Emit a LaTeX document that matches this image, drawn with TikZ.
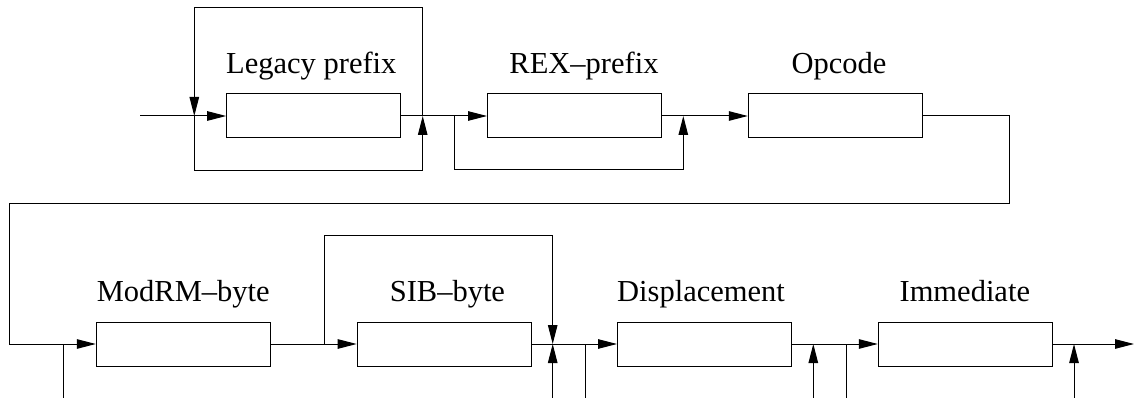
\documentclass[tikz,border=0pt]{standalone}
\usepackage{fontspec}
\setmainfont{Liberation Serif}
\usetikzlibrary{arrows.meta}
\begin{document}
\begin{tikzpicture}[x=1pt,y=-1pt,line width=1pt,
  fieldbox/.style={draw, minimum width=174pt, minimum height=44pt, inner sep=0pt},
  fieldlabel/.style={anchor=base, inner sep=0pt, font=\fontsize{30.5}{36}\selectfont},
  flow/.style={-{Triangle[length=19pt,width=9.5pt]}}]
\useasboundingbox (0,0) rectangle (1135,398);

% instruction fields, upper row
\node[fieldbox] (legacy) at (313.7,116) {};
\node[fieldbox] (rex)    at (574.5,116) {};
\node[fieldbox] (opcode) at (835.3,116) {};
% instruction fields, lower row
\node[fieldbox] (modrm) at (183.3,344) {};
\node[fieldbox] (sib)   at (444.2,344) {};
\node[fieldbox] (disp)  at (704.5,344) {};
\node[fieldbox] (imm)   at (965.3,344) {};

% field names
\node[fieldlabel] (legacyL) at (311.3,73.5) {Legacy prefix};
\node[fieldlabel] (rexL)    at (584,73.5)   {REX–prefix};
\node[fieldlabel] (opcodeL) at (839,73.5)   {Opcode};
\node[fieldlabel] (modrmL)  at (183.3,301)  {ModRM–byte};
\node[fieldlabel] (sibL)    at (447.4,301)  {SIB–byte};
\node[fieldlabel] (dispL)   at (701,301)    {Displacement};
\node[fieldlabel] (immL)    at (964.8,301)  {Immediate};

% junction and end points
\coordinate (in)  at (140,116);
\coordinate (lj1) at (194.3,116);
\coordinate (lj2) at (422.7,116);
\coordinate (rj1) at (454.7,116);
\coordinate (rj2) at (683.3,116);
\coordinate (wrapR) at (1009,203.3);
\coordinate (wrapL) at (9.7,203.3);
\coordinate (sj1) at (324.3,344);
\coordinate (sj2) at (552.7,344);
\coordinate (out) at (1134,344);
\coordinate (b1) at (63.7,398);
\coordinate (b2) at (552.7,398);
\coordinate (b3) at (585.3,398);
\coordinate (b4) at (813.3,398);
\coordinate (b5) at (846,398);
\coordinate (b6) at (1074,398);

% upper row
\draw[flow] (in) -- (legacy.west);
\draw[flow] (lj2) -- ++(0,-108.7) -| (lj1);
\draw[flow] (lj1) -- ++(0,54.7) -| (lj2);
\draw[flow] (legacy.east) -- (rex.west);
\draw[flow] (rj1) -- ++(0,54) -| (rj2);
\draw[flow] (rex.east) -- (opcode.west);

% wrap to the lower row
\draw[flow] (opcode.east) -| (wrapR) -- (wrapL) |- (modrm.west);

% lower row
\draw (b1) -- (b1 |- modrm.west);
\draw[flow] (modrm.east) -- (sib.west);
\draw[flow] (sj1) -- ++(0,-108.3) -| (sj2);
\draw[flow] (b2) -- (sj2);
\draw[flow] (sib.east) -- (disp.west);
\draw (b3) -- (b3 |- disp.west);
\draw[flow] (disp.east) -- (imm.west);
\draw[flow] (b4) -- (b4 |- disp.east);
\draw (b5) -- (b5 |- imm.west);
\draw[flow] (imm.east) -- (out);
\draw[flow] (b6) -- (b6 |- imm.east);
\end{tikzpicture}
\end{document}
